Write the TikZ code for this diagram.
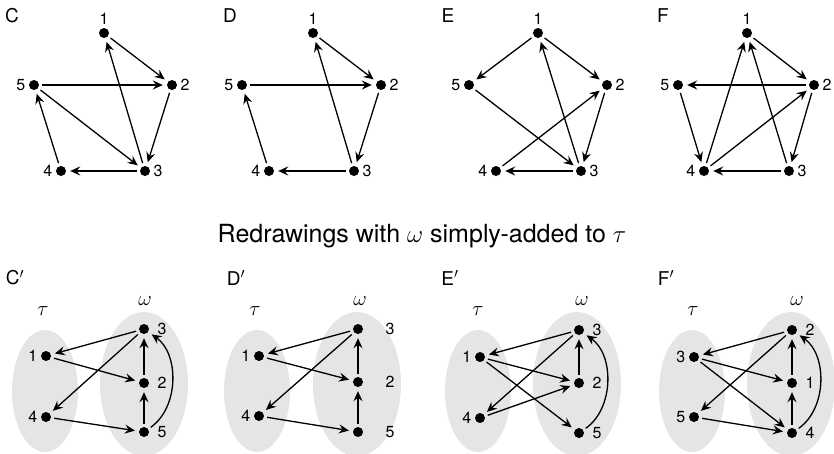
\documentclass[tikz,border=0pt]{standalone}
\usepackage{fontspec}
\setmainfont{TeX Gyre Heros}
\usetikzlibrary{arrows.meta}
\tikzset{%
  dot/.style={circle,fill=black,inner sep=0pt,minimum size=10pt},
  link/.style={line width=1.3pt,-{Stealth[length=10pt,width=9pt,inset=3.5pt]},
    shorten <=3pt,shorten >=4pt},
  num/.style={font=\fontsize{16}{16}\selectfont},
  panel/.style={font=\fontsize{19}{19}\selectfont},
  setname/.style={font=\fontsize{20}{20}\selectfont},
  blob/.style={fill=gray!20,draw=none},
  far/.style={label distance=5pt}
}
\begin{document}
\begin{tikzpicture}[x=1pt,y=-1pt]

    \useasboundingbox (0,0) rectangle (834,453);

    % ---- top row: the four tournaments ----

    % C
    \node[panel] (lc) at (12,16) {C};
    \node[dot,label={[num]above:1}] (c1) at (104,33) {};
    \node[dot,label={[num]right:2}] (c2) at (172,85) {};
    \node[dot,label={[num]right:3}] (c3) at (145,171) {};
    \node[dot,label={[num]left:4}] (c4) at (61,171) {};
    \node[dot,label={[num]left:5}] (c5) at (34,85) {};
    \draw[link] (c1) -- (c2);
    \draw[link] (c2) -- (c3);
    \draw[link] (c3) -- (c1);
    \draw[link] (c3) -- (c4);
    \draw[link] (c4) -- (c5);
    \draw[link] (c5) -- (c2);
    \draw[link] (c5) -- (c3);

    % D
    \node[panel] (ld) at (230,16) {D};
    \node[dot,label={[num]above:1}] (d1) at (313,33) {};
    \node[dot,label={[num]right:2}] (d2) at (381,85) {};
    \node[dot,label={[num]right:3}] (d3) at (354,171) {};
    \node[dot,label={[num]left:4}] (d4) at (269,171) {};
    \node[dot,label={[num]left:5}] (d5) at (242,85) {};
    \draw[link] (d1) -- (d2);
    \draw[link] (d2) -- (d3);
    \draw[link] (d3) -- (d1);
    \draw[link] (d3) -- (d4);
    \draw[link] (d4) -- (d5);
    \draw[link] (d5) -- (d2);

    % E
    \node[panel] (le) at (448,16) {E};
    \node[dot,label={[num]above:1}] (e1) at (538,33) {};
    \node[dot,label={[num]right:2}] (e2) at (607,85) {};
    \node[dot,label={[num]right:3}] (e3) at (581,171) {};
    \node[dot,label={[num]left:4}] (e4) at (496,171) {};
    \node[dot,label={[num]left:5}] (e5) at (469,85) {};
    \draw[link] (e1) -- (e5);
    \draw[link] (e1) -- (e2);
    \draw[link] (e2) -- (e3);
    \draw[link] (e3) -- (e1);
    \draw[link] (e3) -- (e4);
    \draw[link] (e4) -- (e2);
    \draw[link] (e5) -- (e3);

    % F
    \node[panel] (lf) at (663,16) {F};
    \node[dot,label={[num]above:1}] (f1) at (747,33) {};
    \node[dot,label={[num]right:2}] (f2) at (814,85) {};
    \node[dot,label={[num]right:3}] (f3) at (789,171) {};
    \node[dot,label={[num]left:4}] (f4) at (704,171) {};
    \node[dot,label={[num]left:5}] (f5) at (678,85) {};
    \draw[link] (f1) -- (f2);
    \draw[link] (f2) -- (f5);
    \draw[link] (f2) -- (f3);
    \draw[link] (f3) -- (f1);
    \draw[link] (f3) -- (f4);
    \draw[link] (f4) -- (f1);
    \draw[link] (f4) -- (f2);
    \draw[link] (f5) -- (f4);

    \node[font=\fontsize{25}{25}\selectfont] (title) at (422,236)
        {Redrawings with $\omega$ simply-added to $\tau$};

    % ---- bottom row: omega put after tau ----

    % C'
    \fill[blob] (45,391) ellipse [x radius=33, y radius=61];
    \fill[blob] (144,384) ellipse [x radius=44, y radius=72];
    \node[panel] (lcp) at (15,278) {C$'$};
    \node[setname] (tc) at (43,311) {$\tau$};
    \node[setname] (wc) at (145,301) {$\omega$};
    \node[dot,label={[num]left:1}] (cp1) at (46,356) {};
    \node[dot,label={[num]left:4}] (cp4) at (46,417) {};
    \node[dot,label={[num,far]right:3}] (cp3) at (144,329) {};
    \node[dot,label={[num,far]right:2}] (cp2) at (144,383) {};
    \node[dot,label={[num,far]right:5}] (cp5) at (144,432) {};
    \draw[link] (cp3) -- (cp1);
    \draw[link] (cp1) -- (cp2);
    \draw[link] (cp3) -- (cp4);
    \draw[link] (cp4) -- (cp5);
    \draw[link] (cp2) -- (cp3);
    \draw[link] (cp5) -- (cp2);
    \draw[link] (cp5) to[bend right=55] (cp3);

    % D'
    \fill[blob] (257,391) ellipse [x radius=33, y radius=61];
    \fill[blob] (357,384) ellipse [x radius=44, y radius=72];
    \node[panel] (ldp) at (236,278) {D$'$};
    \node[setname] (td) at (255,311) {$\tau$};
    \node[setname] (wd) at (360,301) {$\omega$};
    \node[dot,label={[num]left:1}] (dp1) at (259,356) {};
    \node[dot,label={[num]left:4}] (dp4) at (259,416) {};
    \node[dot,label={[num,label distance=19pt]right:3}] (dp3) at (358,329) {};
    \node[dot,label={[num,label distance=19pt]right:2}] (dp2) at (358,382) {};
    \node[dot,label={[num,label distance=19pt]right:5}] (dp5) at (358,432) {};
    \draw[link] (dp3) -- (dp1);
    \draw[link] (dp1) -- (dp2);
    \draw[link] (dp3) -- (dp4);
    \draw[link] (dp4) -- (dp5);
    \draw[link] (dp2) -- (dp3);
    \draw[link] (dp5) -- (dp2);

    % E'
    \fill[blob] (478,391) ellipse [x radius=33, y radius=61];
    \fill[blob] (577,384) ellipse [x radius=44, y radius=72];
    \node[panel] (lep) at (450,278) {E$'$};
    \node[setname] (te) at (478,311) {$\tau$};
    \node[setname] (we) at (582,301) {$\omega$};
    \node[dot,label={[num]left:1}] (ep1) at (480,357) {};
    \node[dot,label={[num]left:4}] (ep4) at (480,418) {};
    \node[dot,label={[num,far]right:3}] (ep3) at (579,330) {};
    \node[dot,label={[num,far]right:2}] (ep2) at (579,383) {};
    \node[dot,label={[num,far]right:5}] (ep5) at (579,433) {};
    \draw[link] (ep3) -- (ep1);
    \draw[link] (ep1) -- (ep2);
    \draw[link] (ep1) -- (ep5);
    \draw[link] (ep3) -- (ep4);
    \draw[link] (ep4) -- (ep2);
    \draw[link] (ep2) -- (ep3);
    \draw[link] (ep5) to[bend right=55] (ep3);

    % F'
    \fill[blob] (692,391) ellipse [x radius=33, y radius=61];
    \fill[blob] (791,384) ellipse [x radius=44, y radius=72];
    \node[panel] (lfp) at (666,278) {F$'$};
    \node[setname] (tf) at (693,311) {$\tau$};
    \node[setname] (wf) at (797,301) {$\omega$};
    \node[dot,label={[num]left:3}] (fp3) at (694,357) {};
    \node[dot,label={[num]left:5}] (fp5) at (694,417) {};
    \node[dot,label={[num,far]right:2}] (fp2) at (792,330) {};
    \node[dot,label={[num,far]right:1}] (fp1) at (792,383) {};
    \node[dot,label={[num,far]right:4}] (fp4) at (792,433) {};
    \draw[link] (fp2) -- (fp3);
    \draw[link] (fp3) -- (fp1);
    \draw[link] (fp3) -- (fp4);
    \draw[link] (fp2) -- (fp5);
    \draw[link] (fp5) -- (fp4);
    \draw[link] (fp1) -- (fp2);
    \draw[link] (fp4) -- (fp1);
    \draw[link] (fp4) to[bend right=55] (fp2);

\end{tikzpicture}
\end{document}
